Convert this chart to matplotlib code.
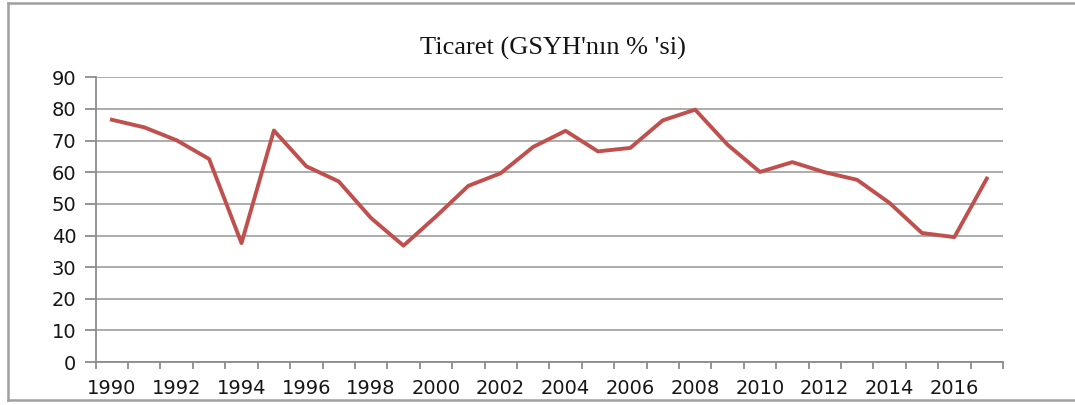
import matplotlib
matplotlib.use("Agg")
import matplotlib.pyplot as plt
from matplotlib.lines import Line2D
import numpy as np

years = list(range(1990, 2018))
trade = [76.6, 74.2, 70.1, 64.2, 37.6, 73.2, 61.9, 57.1, 45.5, 36.8,
         46.0, 55.7, 59.7, 68.0, 73.1, 66.6, 67.7, 76.4, 79.8, 68.7,
         60.1, 63.2, 60.0, 57.6, 50.3, 40.8, 39.5, 58.0]
yticks = list(range(0, 100, 10))
title = "Ticaret (GSYH'nın % 'si)"

plt.rcParams["font.family"] = ["DejaVu Sans"]

fig = plt.figure(figsize=(10.75, 4.05), dpi=100)
ax = fig.add_axes([0.089, 0.106, 0.844, 0.703])

x = np.arange(len(years))
ax.plot(x, trade, color="#c0504d", lw=2.8, solid_joinstyle="round", zorder=3)

ax.set_xlim(-0.5, len(years) - 0.5)
ax.set_ylim(0, 90)
ax.set_yticks(yticks)
ax.yaxis.grid(True, color="#a6a6a6", lw=1.3)
ax.set_axisbelow(True)

# category boundaries as tick marks, labels at every second year
ax.set_xticks(np.arange(-0.5, len(years)), minor=True)
ax.set_xticks(x[::2])
ax.set_xticklabels([str(y) for y in years[::2]])
ax.tick_params(axis="x", which="major", length=0, pad=12, labelsize=14,
               labelcolor="#161616")
ax.tick_params(axis="x", which="minor", length=5, width=1.3, color="#8c8c8c")
ax.tick_params(axis="y", length=8, width=1.3, color="#8c8c8c", pad=6,
               labelsize=14, labelcolor="#161616")

for s in ["top", "right"]:
    ax.spines[s].set_visible(False)
for s in ["left", "bottom"]:
    ax.spines[s].set_color("#8c8c8c")
    ax.spines[s].set_linewidth(1.3)

fig.text(0.514, 0.880, title, ha="center", va="center",
         family="Liberation Serif", fontsize=19, color="#141414")

# outer chart border (left, top, bottom)
bc = "#a0a0a0"
fig.add_artist(Line2D([0.0075, 1.0], [0.9925, 0.9925], color=bc, lw=1.8, transform=fig.transFigure))
fig.add_artist(Line2D([0.0075, 0.0075], [0.0125, 0.9925], color=bc, lw=1.8, transform=fig.transFigure))
fig.add_artist(Line2D([0.0075, 1.0], [0.0125, 0.0125], color=bc, lw=1.8, transform=fig.transFigure))

fig.savefig("out.png", dpi=100, facecolor="white")
